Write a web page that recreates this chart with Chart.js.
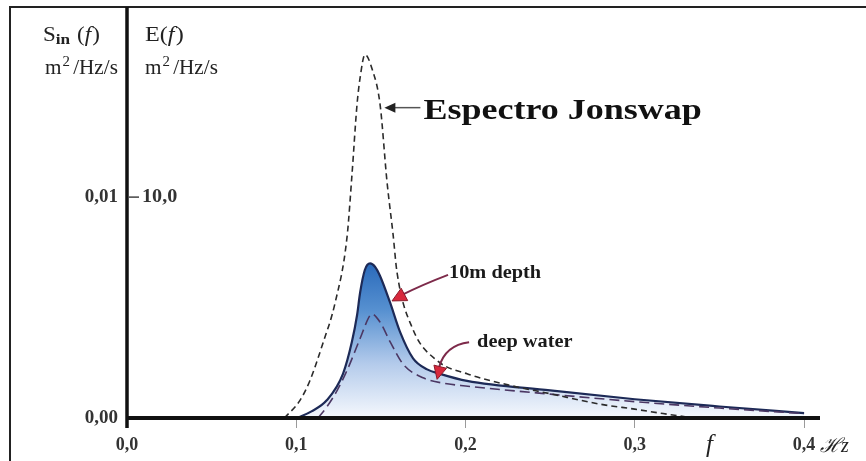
<!DOCTYPE html>
<html>
<head>
<meta charset="utf-8">
<script src="https://cdn.jsdelivr.net/npm/chart.js@4.4.1/dist/chart.umd.min.js"></script>
<style>
body { margin: 0; background: #fff; }
#wrap { width: 866px; height: 461px; position: relative; }
</style>
</head>
<body>
<div id="wrap"><canvas id="myChart"></canvas></div>
<script>
/* ejes */
var xTicks = [0, 0.1, 0.2, 0.3, 0.4];
var xTickLabels = ['0,0', '0,1', '0,2', '0,3', '0,4'];
var yTicks = [0, 10];
var yTickLabelsSin = ['0,00', '0,01'];
var yTickLabelsE = ['', '10,0'];

/* Espectro Jonswap: f (Hz) y E(f) */
var jonswapF = [0.093, 0.1022, 0.1081, 0.1158, 0.1229, 0.130, 0.1329, 0.1359, 0.1377, 0.1406, 0.1448, 0.1495, 0.1536, 0.1572, 0.1595, 0.169, 0.1832, 0.2009, 0.225, 0.25, 0.28, 0.30, 0.3167, 0.335];
var jonswapE = [0, 0.8, 1.7, 3.4, 5.2, 8.2, 11.0, 14.2, 15.4, 16.45, 15.8, 14.2, 10.7, 8.3, 6.6, 4.0, 2.6, 2.0, 1.5, 1.1, 0.62, 0.4, 0.2, 0];

/* 10m depth */
var depth10F = [0.1004, 0.109, 0.118, 0.1276, 0.1329, 0.1359, 0.1377, 0.1405, 0.1436, 0.1465, 0.1495, 0.1554, 0.1613, 0.169, 0.1773, 0.1849, 0.2009, 0.25, 0.30, 0.35, 0.40];
var depth10E = [0, 0.3, 0.8, 2.0, 3.46, 4.65, 5.67, 6.7, 7.0, 6.85, 6.43, 5.23, 3.9, 2.7, 2.2, 2.0, 1.68, 1.25, 0.85, 0.52, 0.22];

/* deep water */
var deepF = [0.1128, 0.118, 0.1241, 0.1306, 0.1377, 0.1436, 0.1448, 0.1495, 0.1554, 0.1631, 0.1749, 0.1891, 0.20, 0.25, 0.30, 0.35, 0.40];
var deepE = [0, 0.5, 1.24, 2.26, 3.6, 4.65, 4.7, 4.34, 3.46, 2.44, 1.82, 1.55, 1.45, 1.08, 0.74, 0.45, 0.2];

function pts(fs, es) {
    return fs.map(function(f, i) { return {x: f, y: es[i]}; });
}

var serif = '"Liberation Serif", "DejaVu Serif", serif';

// texto por partes (subindices, cursiva), algo ensanchado como el original
function drawParts(c, x, y, parts, sx) {
    c.save();
    c.translate(x, y);
    c.scale(sx || 1, 1);
    var px = 0;
    parts.forEach(function(p) {
        c.font = p.font;
        c.fillText(p.t, px, p.dy || 0);
        px += c.measureText(p.t).width + (p.gap || 0);
    });
    c.restore();
}

function arrowHead(c, tx, ty, ang, len, half, fill, stroke) {
    c.beginPath();
    c.moveTo(tx, ty);
    c.lineTo(tx - len * Math.cos(ang) + half * Math.sin(ang), ty - len * Math.sin(ang) - half * Math.cos(ang));
    c.lineTo(tx - len * Math.cos(ang) - half * Math.sin(ang), ty - len * Math.sin(ang) + half * Math.cos(ang));
    c.closePath();
    c.fillStyle = fill;
    c.fill();
    if (stroke) { c.strokeStyle = stroke; c.lineWidth = 1; c.stroke(); }
}

var overlay = {
    id: 'overlay',
    afterDraw: function(chart) {
        var c = chart.ctx, a = chart.chartArea, xs = chart.scales.x, ys = chart.scales.y;
        c.save();
        // marco
        c.strokeStyle = '#222';
        c.lineWidth = 2;
        c.beginPath(); c.moveTo(10, 461); c.lineTo(10, 7); c.lineTo(866, 7); c.stroke();
        // ejes
        c.strokeStyle = '#111';
        c.lineWidth = 3.5;
        c.beginPath(); c.moveTo(a.left, 7); c.lineTo(a.left, a.bottom + 10); c.stroke();
        c.lineWidth = 4;
        c.beginPath(); c.moveTo(a.left, a.bottom); c.lineTo(a.right - 1, a.bottom); c.stroke();

        // escala E(f)
        var y10 = ys.getPixelForValue(yTicks[1]);
        c.lineWidth = 1.5;
        c.strokeStyle = '#444';
        c.beginPath(); c.moveTo(a.left + 2, y10); c.lineTo(a.left + 12, y10); c.stroke();
        c.fillStyle = '#333';
        c.textAlign = 'left';
        c.textBaseline = 'middle';
        drawParts(c, a.left + 15, y10, [{t: yTickLabelsE[1], font: 'bold 18px ' + serif}], 1.12);

        // titulos de los ejes
        c.textBaseline = 'alphabetic';
        c.fillStyle = '#222';
        drawParts(c, 43, 41, [
            {t: 'S', font: '20px ' + serif},
            {t: 'in', font: 'bold 15px ' + serif, dy: 3, gap: 6},
            {t: '(', font: '20px ' + serif},
            {t: 'f', font: 'italic 20px ' + serif, gap: 1},
            {t: ')', font: '20px ' + serif}
        ], 1.15);
        var unit = [
            {t: 'm', font: '20px ' + serif, gap: 1},
            {t: '2', font: '14px ' + serif, dy: -8, gap: 3},
            {t: '/Hz/s', font: '20px ' + serif}
        ];
        drawParts(c, 45, 74, unit, 1.06);
        drawParts(c, 145, 41, [
            {t: 'E(', font: '21px ' + serif},
            {t: 'f', font: 'italic 21px ' + serif, gap: 1},
            {t: ')', font: '21px ' + serif}
        ], 1.15);
        drawParts(c, 145, 74, unit, 1.06);

        // f  Hz
        c.font = 'italic 25px ' + serif;
        c.fillText('f', 706, 452);
        c.font = 'italic 20px ' + serif;
        c.fillText('\u210Bz', 820, 452);

        // Espectro Jonswap
        var jx = xs.getPixelForValue(0.1497) + 4, jy = ys.getPixelForValue(14.05);
        c.strokeStyle = '#555';
        c.lineWidth = 1.5;
        c.beginPath(); c.moveTo(jx + 8, jy); c.lineTo(jx + 36, jy); c.stroke();
        arrowHead(c, jx, jy, Math.PI, 11, 5, '#222');
        c.fillStyle = '#111';
        drawParts(c, jx + 39, jy + 11, [{t: 'Espectro Jonswap', font: 'bold 30px ' + serif}], 1.2);

        // 10m depth
        var dx = xs.getPixelForValue(0.1554) + 2, dy = ys.getPixelForValue(5.3);
        c.strokeStyle = '#7d2a4a';
        c.lineWidth = 2;
        c.beginPath();
        c.moveTo(dx + 56, dy - 26);
        c.quadraticCurveTo(dx + 30, dy - 16, dx + 10, dy - 6);
        c.stroke();
        arrowHead(c, dx, dy, Math.atan2(10, -19), 14, 7, '#d8283c', '#8a1a2a');
        c.fillStyle = '#1a1a1a';
        drawParts(c, dx + 57, dy - 23, [{t: '10m depth', font: 'bold 19px ' + serif}], 1.07);

        // deep water
        var wx = xs.getPixelForValue(0.1832), wy = ys.getPixelForValue(1.75);
        c.strokeStyle = '#7d2a4a';
        c.lineWidth = 2;
        c.beginPath();
        c.moveTo(wx + 32, wy - 37);
        c.quadraticCurveTo(wx + 8, wy - 34, wx + 2, wy - 12);
        c.stroke();
        arrowHead(c, wx, wy, Math.atan2(12, -3), 13, 6.5, '#d8283c', '#8a1a2a');
        c.fillStyle = '#1a1a1a';
        drawParts(c, wx + 40, wy - 32, [{t: 'deep water', font: 'bold 19px ' + serif}], 1.07);
        c.restore();
    }
};

var ctx = document.getElementById('myChart').getContext('2d');
var myChart = new Chart(ctx, {
    type: 'line',
    data: {
        datasets: [{
            label: 'Espectro Jonswap',
            data: pts(jonswapF, jonswapE),
            borderColor: '#2b2b2b',
            borderWidth: 1.6,
            borderDash: [6, 4],
            fill: false,
            order: 0
        }, {
            label: 'deep water',
            data: pts(deepF, deepE),
            borderColor: '#4b3763',
            borderWidth: 1.6,
            borderDash: [10, 5],
            fill: false,
            order: 1
        }, {
            label: '10m depth',
            data: pts(depth10F, depth10E),
            borderColor: '#1d2a57',
            borderWidth: 2.2,
            fill: 'origin',
            backgroundColor: function(context) {
                var chart = context.chart, area = chart.chartArea;
                if (!area) return 'rgba(60,120,200,0.5)';
                var g = chart.ctx.createLinearGradient(0, chart.scales.y.getPixelForValue(7), 0, area.bottom);
                g.addColorStop(0, '#2a6abb');
                g.addColorStop(0.3, '#5690d0');
                g.addColorStop(0.65, '#b4cbeb');
                g.addColorStop(1, '#f5f8fd');
                return g;
            },
            order: 2
        }]
    },
    options: {
        responsive: true,
        maintainAspectRatio: false,
        animation: false,
        layout: {
            padding: {left: 0, right: 45, top: 8, bottom: 0}
        },
        elements: {
            point: {radius: 0},
            line: {cubicInterpolationMode: 'monotone'}
        },
        plugins: {
            legend: {display: false},
            tooltip: {enabled: false}
        },
        scales: {
            x: {
                type: 'linear',
                min: 0,
                max: 0.41,
                afterBuildTicks: function(s) { s.ticks = xTicks.map(function(v) { return {value: v}; }); },
                afterFit: function(s) { s.height = 43; },
                border: {display: false},
                grid: {display: true, drawOnChartArea: false, drawTicks: true, tickLength: 10, tickColor: '#9a9a9a', color: '#9a9a9a'},
                ticks: {
                    autoSkip: false,
                    maxRotation: 0,
                    padding: 7,
                    color: '#333',
                    font: {family: serif, size: 18, weight: 'bold'},
                    callback: function(v, i) { return xTickLabels[i]; }
                }
            },
            y: {
                min: 0,
                max: 18,
                afterBuildTicks: function(s) { s.ticks = yTicks.map(function(v) { return {value: v}; }); },
                afterFit: function(s) { s.width = 127; },
                border: {display: false},
                grid: {display: false, drawTicks: false},
                ticks: {
                    padding: 9,
                    color: '#333',
                    font: {family: serif, size: 19, weight: 'bold'},
                    callback: function(v, i) { return yTickLabelsSin[i]; }
                }
            }
        }
    },
    plugins: [overlay]
});
</script>
</body>
</html>
